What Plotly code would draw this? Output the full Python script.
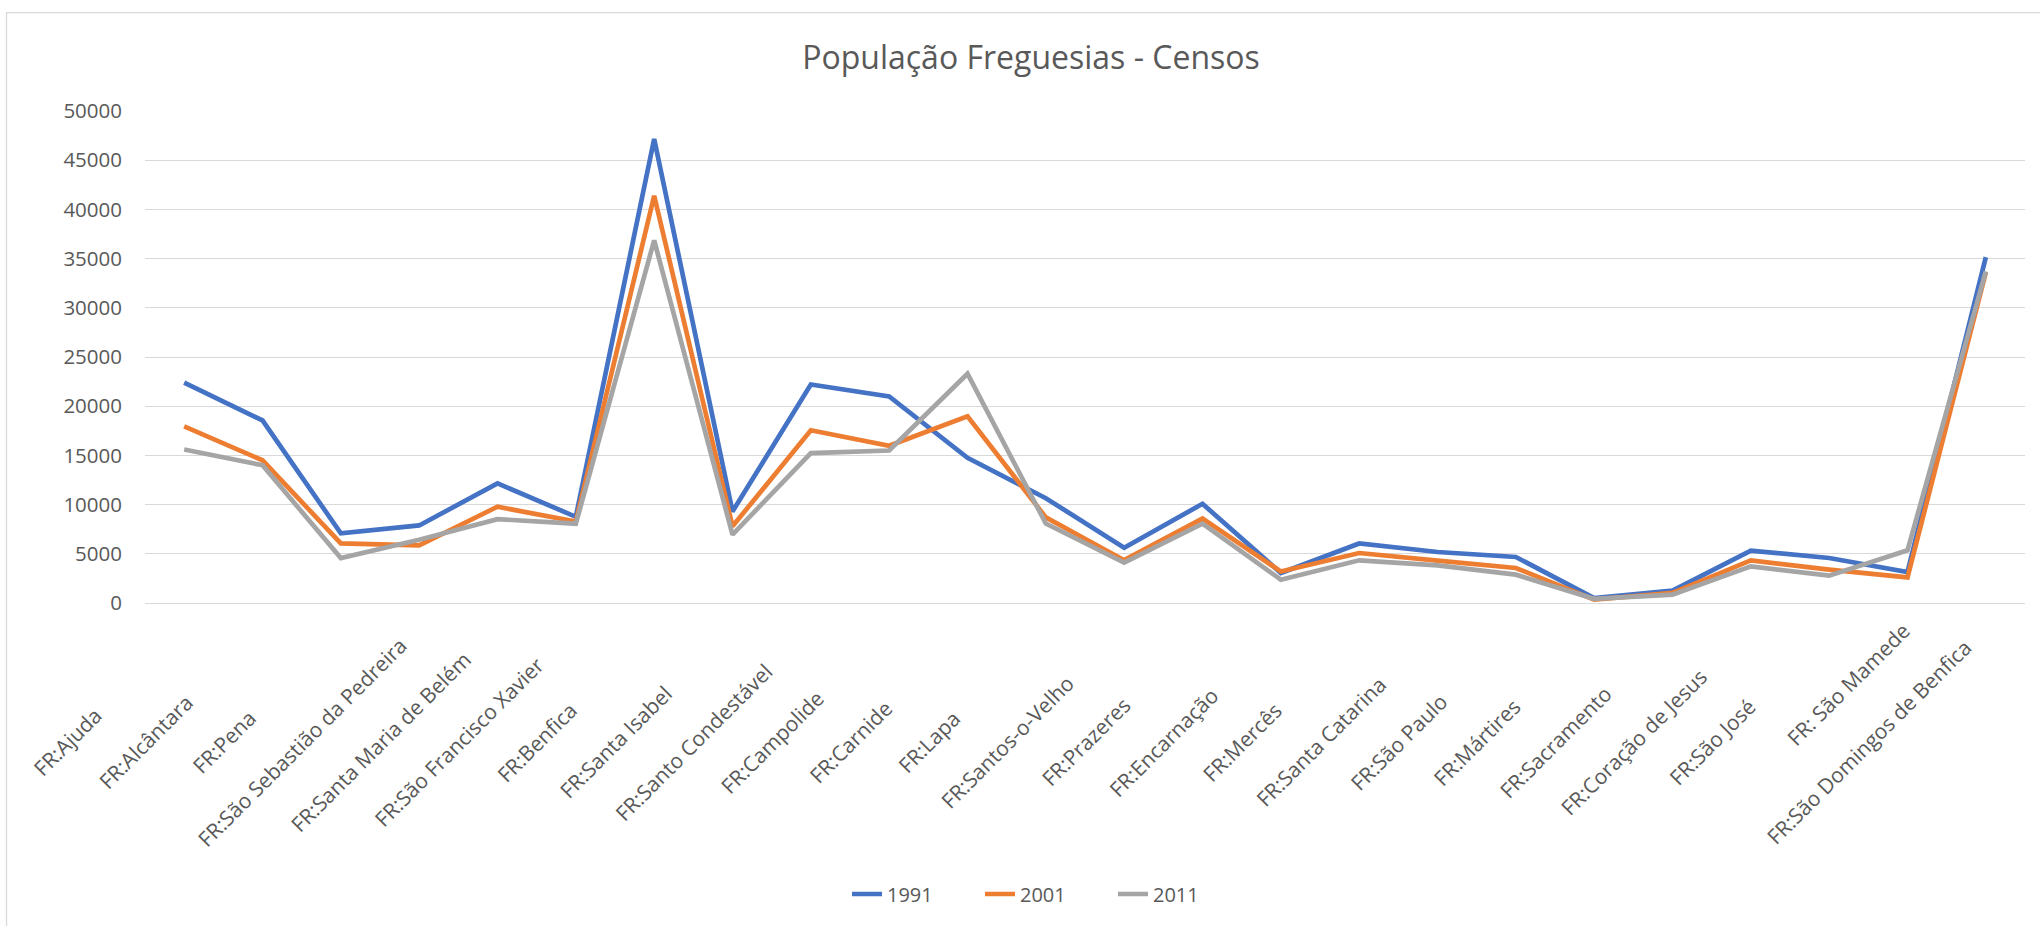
import plotly.graph_objects as go

categories = ["FR:Ajuda", "FR:Alcântara", "FR:Pena", "FR:São Sebastião da Pedreira",
              "FR:Santa Maria de Belém", "FR:São Francisco Xavier", "FR:Benfica",
              "FR:Santa Isabel", "FR:Santo Condestável", "FR:Campolide", "FR:Carnide",
              "FR:Lapa", "FR:Santos-o-Velho", "FR:Prazeres", "FR:Encarnação", "FR:Mercês",
              "FR:Santa Catarina", "FR:São Paulo", "FR:Mártires", "FR:Sacramento",
              "FR:Coração de Jesus", "FR:São José", "FR: São Mamede",
              "FR:São Domingos de Benfica"]

pop_1991 = [22400, 18550, 7080, 7880, 12150, 8760, 47150, 9300, 22200, 21000, 14750,
            10650, 5620, 10080, 3050, 6050, 5180, 4680, 500, 1250, 5320, 4570, 3150, 35150]
pop_2001 = [17950, 14500, 6050, 5850, 9780, 8280, 41380, 7790, 17550, 15980, 18980,
            8700, 4350, 8580, 3200, 5080, 4300, 3560, 340, 1020, 4330, 3390, 2600, 33600]
pop_2011 = [15600, 14000, 4570, 6430, 8520, 8060, 36850, 6950, 15240, 15500, 23300,
            8080, 4100, 8060, 2370, 4340, 3830, 2880, 420, 850, 3720, 2780, 5350, 33700]

series_names = ["1991", "2001", "2011"]
y_ticks = [0, 5000, 10000, 15000, 20000, 25000, 30000, 35000, 40000, 45000, 50000]

colors = ["#4472C4", "#ED7D31", "#A5A5A5"]
W, H = 2040, 926
L, R, T, B = 145, 15, 111, 323
plot_w, plot_h = W - L - R, H - T - B
FONT = "Open Sans"
TXT = "#595959"


def px_x(p):
    return (p - L) / plot_w


def px_y(p):
    return (H - B - p) / plot_h


fig = go.Figure()
for name, vals, c in zip(series_names, [pop_1991, pop_2001, pop_2011], colors):
    fig.add_trace(go.Scatter(x=categories, y=vals, mode="lines", name=name,
                             line=dict(color=c, width=4.7)))

# category labels (Excel-like centred rotated labels)
extra_shift = {"FR: São Mamede": 82}
annotations = []
for cat in categories:
    s = extra_shift.get(cat, 0) / 1.4142
    annotations.append(dict(x=cat, xref="x", y=px_y(742), yref="paper",
                            text=cat, showarrow=False, textangle=-45,
                            xanchor="center", yanchor="middle",
                            xshift=-117 + s, yshift=s,
                            font=dict(family=FONT, size=21, color=TXT)))

fig.update_layout(
    width=W, height=H,
    margin=dict(l=L, r=R, t=T, b=B),
    paper_bgcolor="white", plot_bgcolor="white",
    title=dict(text="População Freguesias - Censos", x=1031 / W, xref="container",
               xanchor="center", y=1 - 57.5 / H, yanchor="middle",
               font=dict(family=FONT, size=32, color=TXT)),
    legend=dict(orientation="h", x=px_x(847), xanchor="left",
                y=px_y(894), yanchor="middle",
                entrywidth=88, entrywidthmode="pixels",
                font=dict(family=FONT, size=20, color=TXT)),
    annotations=annotations,
    shapes=[dict(type="rect", xref="paper", yref="paper",
                 x0=px_x(6.5), x1=px_x(2070), y0=px_y(960), y1=px_y(12.6),
                 line=dict(color="#D9D9D9", width=1.3), fillcolor="rgba(0,0,0,0)",
                 layer="below")],
    showlegend=True,
)
fig.update_xaxes(type="category", range=[-0.5, len(categories) - 0.5],
                 showticklabels=False, showgrid=False, zeroline=False,
                 showline=True, linecolor="#D9D9D9", linewidth=1.3, ticks="")
fig.update_yaxes(range=[0, 50000], tickvals=y_ticks, ticktext=[str(v) for v in y_ticks],
                 showgrid=True, gridcolor="#D9D9D9", gridwidth=1.3, zeroline=False,
                 ticks="", ticklabelstandoff=22,
                 tickfont=dict(family=FONT, size=20.5, color=TXT))

fig.write_html("out.html", config={"displayModeBar": False},
               post_script="document.body.style.margin='0px';")
